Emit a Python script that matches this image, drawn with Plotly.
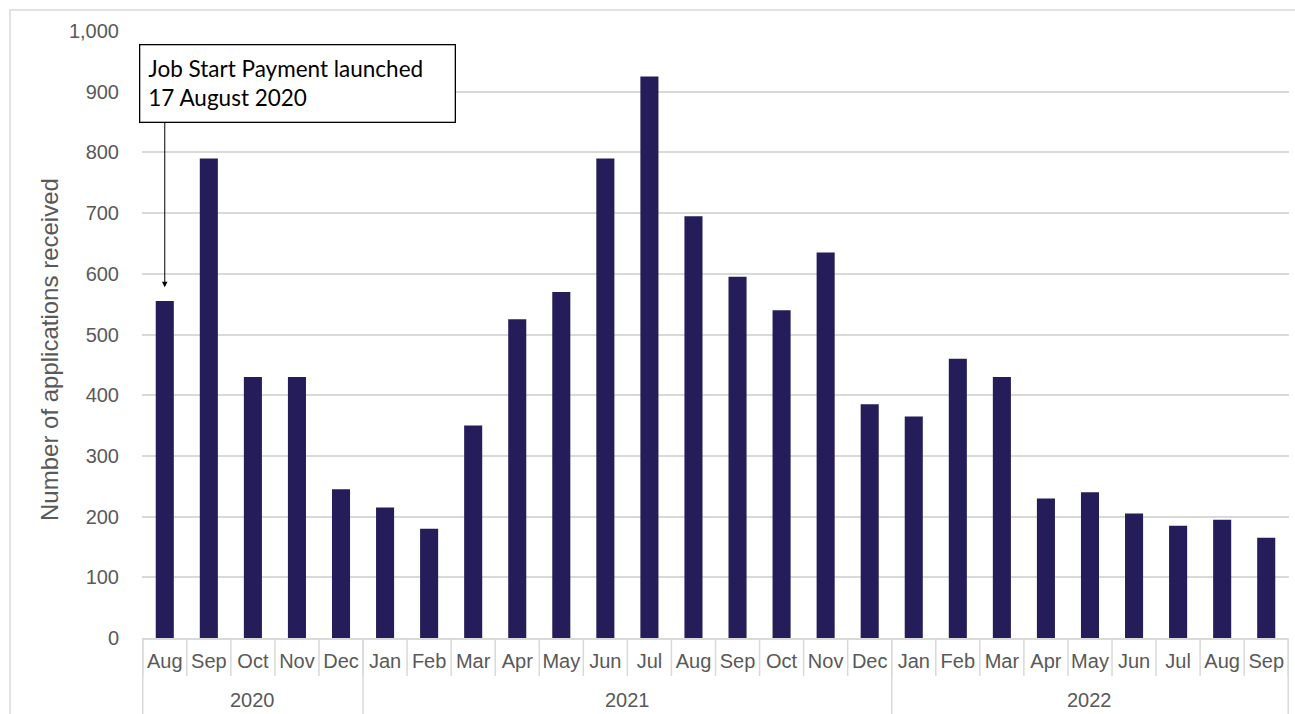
import plotly.graph_objects as go

# ---- data ----
months = ["Aug", "Sep", "Oct", "Nov", "Dec",
          "Jan", "Feb", "Mar", "Apr", "May", "Jun", "Jul", "Aug", "Sep", "Oct", "Nov", "Dec",
          "Jan", "Feb", "Mar", "Apr", "May", "Jun", "Jul", "Aug", "Sep"]
years = ["2020"] * 5 + ["2021"] * 12 + ["2022"] * 9
applications = [555, 790, 430, 430, 245,
                215, 180, 350, 525, 570, 790, 925, 695, 595, 540, 635, 385,
                365, 460, 430, 230, 240, 205, 185, 195, 165]
year_groups = ["2020", "2021", "2022"]
y_ticks = [0, 100, 200, 300, 400, 500, 600, 700, 800, 900, 1000]
y_title = "Number of applications received"
annotation_text = "Job Start Payment launched<br>17 August 2020"
launch_value = 578     # arrow head level
launch_tail = 852      # arrow tail level

categories = [f"{m} {y}" for m, y in zip(months, years)]

GRAY = "#d9d9d9"
TXT = "#595959"
FONT = "Liberation Sans, Arial, sans-serif"

fig = go.Figure()
fig.add_trace(go.Bar(
    x=categories, y=applications,
    marker=dict(color="#251c5a", line=dict(width=0)),
    hoverinfo="x+y",
))

shapes = []
# month separators (category boundaries)
for i in range(len(categories) + 1):
    shapes.append(dict(type="line", xref="x", yref="paper", ysizemode="pixel", yanchor=0,
                       x0=i - 0.5, x1=i - 0.5, y0=0, y1=-38,
                       line=dict(color=GRAY, width=1.5)))
# year group separators
pos = -0.5
bounds = [pos]
for g in year_groups:
    pos += years.count(g)
    bounds.append(pos)
for b in bounds:
    shapes.append(dict(type="line", xref="x", yref="paper", ysizemode="pixel", yanchor=0,
                       x0=b, x1=b, y0=0, y1=-90,
                       line=dict(color=GRAY, width=1.5)))
# outer chart frame
shapes.append(dict(type="rect", xref="paper", yref="paper",
                   x0=-0.1151, x1=1.2, y0=-0.3, y1=1.0346,
                   line=dict(color=GRAY, width=1.5), layer="below"))

annotations = []
start = 0
for g in year_groups:
    n = years.count(g)
    annotations.append(dict(x=start + (n - 1) / 2, xref="x", y=0, yref="paper",
                            yshift=-62, text=g, showarrow=False,
                            font=dict(family=FONT, size=20, color=TXT), yanchor="middle"))
    start += n

# y-axis title
annotations.append(dict(x=-0.0802, xref="paper", y=0.4745, yref="paper",
                        text=y_title, textangle=-90, showarrow=False,
                        xanchor="center", yanchor="middle",
                        font=dict(family=FONT, size=24, color=TXT)))

annotations.append(dict(x=-0.0026, xref="paper", y=0.9786, yref="paper",
                        xanchor="left", yanchor="top", align="left",
                        text=annotation_text, showarrow=False,
                        font=dict(family="Lato, Carlito, Calibri, sans-serif", size=22.5, color="black"),
                        bordercolor="black", borderwidth=1.3, borderpad=8,
                        bgcolor="white", width=298, height=60))
annotations.append(dict(x=categories[0], xref="x", y=launch_value, yref="y",
                        ax=categories[0], axref="x", ay=launch_tail, ayref="y",
                        text="", showarrow=True, arrowhead=2, arrowsize=1.1,
                        arrowwidth=1, arrowcolor="black"))

fig.update_layout(
    width=1295, height=714,
    margin=dict(l=142, r=6, t=31, b=76),
    paper_bgcolor="white", plot_bgcolor="white",
    bargap=0.59,
    showlegend=False,
    shapes=shapes,
    annotations=annotations,
    xaxis=dict(type="category", tickvals=categories, ticktext=months,
               ticks="", showgrid=False, showline=True, linecolor=GRAY, linewidth=1.5,
               tickfont=dict(family=FONT, size=20, color=TXT), ticklabelstandoff=4),
    yaxis=dict(range=[0, 1000], tickvals=y_ticks, tickformat=",d",
               showgrid=True, gridcolor=GRAY, gridwidth=1.5, zeroline=False,
               ticks="", showline=False,
               tickfont=dict(family=FONT, size=20, color=TXT), ticklabelstandoff=22),
)

fig.write_html("out.html", config={"displayModeBar": False},
               post_script="document.body.style.margin='0';document.body.style.overflow='hidden';")
